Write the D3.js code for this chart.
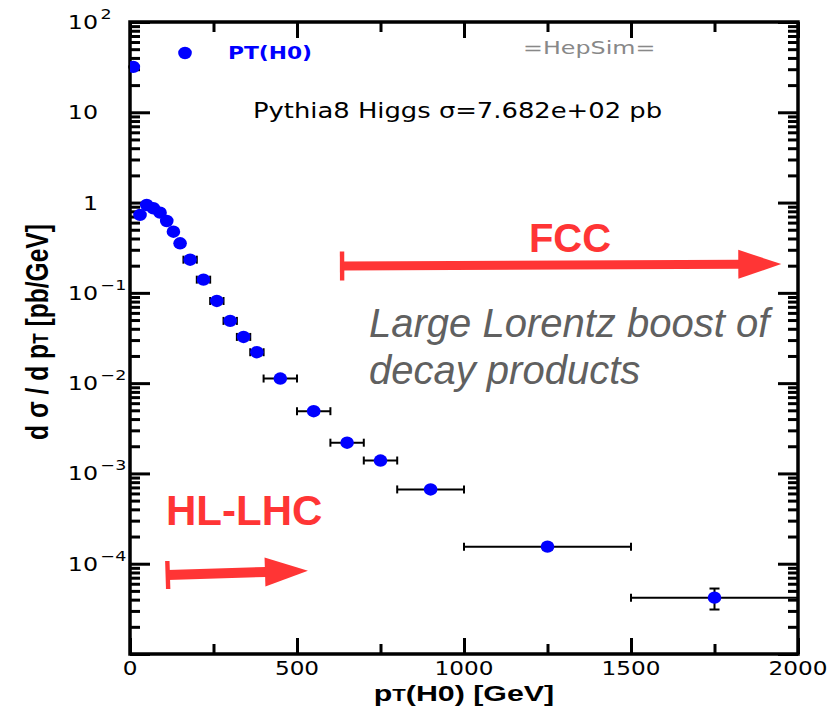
<!DOCTYPE html>
<html>
<head>
<meta charset="utf-8">
<script src="https://cdn.jsdelivr.net/npm/d3@7"></script>
<style>
  body { margin: 0; background: #fff; }
  svg { display: block; }
</style>
</head>
<body>
<svg id="chart" width="829" height="707"></svg>
<script>
// Higgs pT spectrum, Pythia8 (HepSim)
// bin centres [GeV]
const ptCenters = [10, 30, 50, 70, 90, 110, 130, 150, 180, 220, 260, 300, 340, 380, 450, 550, 650, 750, 900, 1250, 1750];
// bin half-widths [GeV]
const ptHalfWidths = [10, 10, 10, 10, 10, 10, 10, 10, 20, 20, 20, 20, 20, 20, 50, 50, 50, 50, 100, 250, 250];
// d sigma / d pT [pb/GeV]
const xsecValues = [31.8, 0.73, 0.94, 0.865, 0.773, 0.625, 0.476, 0.354, 0.233, 0.140, 0.0813, 0.0489, 0.0325, 0.0220,
                    0.01125, 0.00489, 0.00219, 0.00139, 0.000665, 0.0001545, 0.0000421];
// statistical uncertainties [pb/GeV]
const xsecErrors = [0.5, 0.01, 0.012, 0.011, 0.01, 0.009, 0.007, 0.006, 0.003, 0.002, 0.0012, 0.0008, 0.0006, 0.0004,
                    0.0002, 0.0001, 0.00006, 0.00005, 0.00003, 0.000012, 0.000011];

const xTickMajor = [0, 500, 1000, 1500, 2000];
const xTickMinor = [250, 750, 1250, 1750];
const yDecades = [-5, -4, -3, -2, -1, 0, 1, 2];
const yLabelExponents = [2, 1, 0, -1, -2, -3, -4];

// annotation arrows, in data units
const fccArrow = { from: 635, to: 1950, at: 0.198, tilt: -0.26, lw: 9, capH: 29 };
const hllhcArrow = { from: 113, to: 533, at: 7.5e-5, tilt: -1.76, lw: 10, capH: 28 };

const svg = d3.select("#chart");
const plot = { left: 130, right: 798, top: 22, bottom: 654 };

const x = d3.scaleLinear().domain([0, 2000]).range([plot.left, plot.right]);
const y = d3.scaleLog().domain([1e-5, 1e2]).range([plot.bottom, plot.top]);

const blue = "#0000ff";
const red = "#ff3535";

// ---------- ticks (inward, on all four sides) ----------
const yMajor = yDecades.map(e => Math.pow(10, e));
const yMinor = [];
yDecades.slice(0, -1).forEach(e => { for (let k = 2; k <= 9; k++) yMinor.push(k * Math.pow(10, e)); });

function tickGroup(axis, tx, ty) {
  const g = svg.append("g").attr("transform", `translate(${tx},${ty})`).call(axis);
  g.select(".domain").remove();
  g.selectAll(".tick line").attr("stroke", "#000").attr("stroke-width", 3);
  g.selectAll(".tick text").remove();
  return g;
}
tickGroup(d3.axisLeft(y).tickValues(yMajor).tickSize(-20).tickFormat(""), plot.left, 0);
tickGroup(d3.axisLeft(y).tickValues(yMinor).tickSize(-10).tickFormat(""), plot.left, 0);
tickGroup(d3.axisRight(y).tickValues(yMajor).tickSize(-20).tickFormat(""), plot.right, 0);
tickGroup(d3.axisRight(y).tickValues(yMinor).tickSize(-10).tickFormat(""), plot.right, 0);
tickGroup(d3.axisBottom(x).tickValues(xTickMajor).tickSize(-16).tickFormat(""), 0, plot.bottom);
tickGroup(d3.axisBottom(x).tickValues(xTickMinor).tickSize(-10).tickFormat(""), 0, plot.bottom);
tickGroup(d3.axisTop(x).tickValues(xTickMajor).tickSize(-16).tickFormat(""), 0, plot.top);
tickGroup(d3.axisTop(x).tickValues(xTickMinor).tickSize(-10).tickFormat(""), 0, plot.top);

// frame
svg.append("rect")
  .attr("x", plot.left).attr("y", plot.top)
  .attr("width", plot.right - plot.left).attr("height", plot.bottom - plot.top)
  .attr("fill", "none").attr("stroke", "#000").attr("stroke-width", 3.5);

// ---------- tick labels ----------
const tickFont = "'DejaVu Sans', Verdana, sans-serif";
const SX = 1.25;

yLabelExponents.forEach(e => {
  const g = svg.append("g")
    .attr("transform", `translate(98,${y(Math.pow(10, e))}) scale(${SX},1)`)
    .attr("font-family", tickFont).attr("fill", "#000");
  const mant = e === 0 ? "1" : "10";
  g.append("text").attr("x", 0).attr("y", 7).attr("text-anchor", "end")
    .attr("font-size", 19).text(mant);
  if (e !== 0 && e !== 1) {
    g.append("text").attr("x", 2).attr("y", -3).attr("text-anchor", "start")
      .attr("font-size", 14).text(e < 0 ? "\u2212" + (-e) : String(e));
  }
});

xTickMajor.forEach(v => {
  svg.append("text")
    .attr("transform", `translate(${x(v)},675) scale(1.22,1)`)
    .attr("text-anchor", "middle").attr("font-family", tickFont)
    .attr("font-size", 19).attr("fill", "#000").text(v);
});

// ---------- axis titles ----------
const titleFont = "'Liberation Sans', Arial, Helvetica, sans-serif";
const xt = svg.append("text")
  .attr("transform", "translate(464,701) scale(1.38,1)")
  .attr("text-anchor", "middle").attr("font-family", titleFont)
  .attr("font-weight", "bold").attr("font-size", 22).attr("fill", "#000");
xt.append("tspan").text("p");
xt.append("tspan").attr("font-size", 16).text("T");
xt.append("tspan").text("(H0) [GeV]");

const yt = svg.append("text")
  .attr("transform", "translate(48,332) rotate(-90) scale(1.07,1.4)")
  .attr("text-anchor", "middle").attr("font-family", titleFont)
  .attr("font-weight", "bold").attr("font-size", 23).attr("fill", "#000");
yt.append("tspan").text("d \u03c3 / d p");
yt.append("tspan").attr("font-size", 16).text("T");
yt.append("tspan").text(" [pb/GeV]");

// ---------- data: error bars + markers ----------
const pts = ptCenters.map((c, i) => ({ x: c, hw: ptHalfWidths[i], v: xsecValues[i], e: xsecErrors[i] }));
const dataG = svg.append("g");
const capV = 4, capH = 5;

pts.forEach(p => {
  const cy = y(p.v);
  const x0 = Math.max(x(p.x - p.hw), plot.left), x1 = Math.min(x(p.x + p.hw), plot.right);
  dataG.append("line").attr("x1", x0).attr("x2", x1).attr("y1", cy).attr("y2", cy)
    .attr("stroke", "#000").attr("stroke-width", 2);
  [x(p.x - p.hw), x(p.x + p.hw)].forEach(xe => {
    if (xe > plot.left + 1 && xe < plot.right - 1)
      dataG.append("line").attr("x1", xe).attr("x2", xe).attr("y1", cy - capV).attr("y2", cy + capV)
        .attr("stroke", "#000").attr("stroke-width", 2);
  });
  const yu = y(p.v + p.e), yl = y(Math.max(p.v - p.e, 1e-6));
  dataG.append("line").attr("x1", x(p.x)).attr("x2", x(p.x)).attr("y1", yu).attr("y2", yl)
    .attr("stroke", "#000").attr("stroke-width", 2);
  [yu, yl].forEach(ye => {
    dataG.append("line").attr("x1", x(p.x) - capH).attr("x2", x(p.x) + capH).attr("y1", ye).attr("y2", ye)
      .attr("stroke", "#000").attr("stroke-width", 2);
  });
});

const clip = svg.append("clipPath").attr("id", "plotclip");
clip.append("rect").attr("x", plot.left).attr("y", plot.top)
  .attr("width", plot.right - plot.left).attr("height", plot.bottom - plot.top);

svg.append("g").attr("clip-path", "url(#plotclip)")
  .selectAll("ellipse").data(pts).join("ellipse")
  .attr("cx", d => x(d.x)).attr("cy", d => y(d.v))
  .attr("rx", 6.8).attr("ry", 6.2).attr("fill", blue);

// ---------- legend & labels ----------
svg.append("ellipse").attr("cx", 185).attr("cy", 53).attr("rx", 6.8).attr("ry", 6.2).attr("fill", blue);
svg.append("text")
  .attr("transform", "translate(228,59) scale(1.21,1)")
  .attr("font-family", tickFont).attr("font-weight", "bold")
  .attr("font-size", 18).attr("fill", blue).text("PT(H0)");

svg.append("text")
  .attr("transform", "translate(523,54) scale(1.4,1)")
  .attr("font-family", tickFont).attr("font-size", 17).attr("fill", "#888888").text("=HepSim=");

svg.append("text")
  .attr("transform", "translate(253,118) scale(1.23,1)")
  .attr("font-family", tickFont).attr("font-size", 21).attr("fill", "#000")
  .text("Pythia8 Higgs \u03c3=7.682e+02 pb");

// ---------- annotation arrows ----------
function drawArrow(a) {
  const sx = x(a.from), sy = y(a.at);
  const L = x(a.to) - sx;
  const headLen = 43, hh = 14.5;
  const g = svg.append("g").attr("transform", `translate(${sx},${sy}) rotate(${a.tilt})`).attr("fill", red);
  g.append("rect").attr("x", -2.2).attr("y", -a.capH / 2).attr("width", 4.4).attr("height", a.capH);
  g.append("rect").attr("x", 0).attr("y", -a.lw / 2).attr("width", L - headLen + 1).attr("height", a.lw);
  g.append("path").attr("d", `M${L - headLen},${-hh}L${L},0L${L - headLen},${hh}Z`);
}
drawArrow(fccArrow);
drawArrow(hllhcArrow);

const annFont = "'Liberation Sans', Arial, Helvetica, sans-serif";
svg.append("text").attr("x", 570).attr("y", 252).attr("text-anchor", "middle")
  .attr("font-family", annFont).attr("font-weight", "bold").attr("font-size", 40)
  .attr("fill", red).text("FCC");
svg.append("text").attr("x", 166).attr("y", 525)
  .attr("font-family", annFont).attr("font-weight", "bold").attr("font-size", 42)
  .attr("fill", red).text("HL-LHC");
svg.append("text").attr("x", 369).attr("y", 337)
  .attr("font-family", annFont).attr("font-style", "italic").attr("font-size", 40)
  .attr("fill", "#606060").text("Large Lorentz boost of");
svg.append("text").attr("x", 369).attr("y", 384)
  .attr("font-family", annFont).attr("font-style", "italic").attr("font-size", 40)
  .attr("fill", "#606060").text("decay products");
</script>
</body>
</html>
